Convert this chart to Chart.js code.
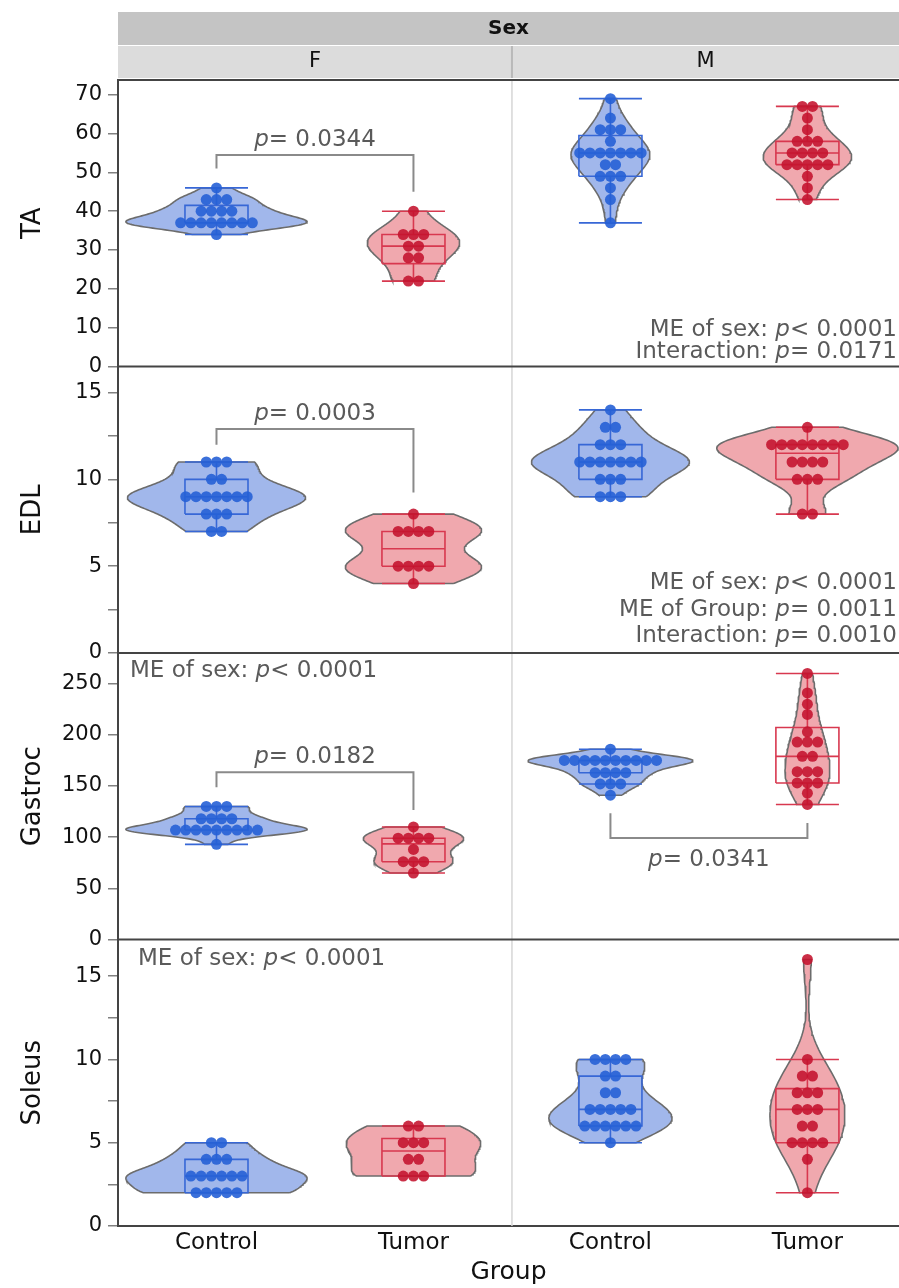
<!DOCTYPE html>
<html>
<head>
<meta charset="utf-8">
<script src="https://cdn.jsdelivr.net/npm/chart.js@4.4.1/dist/chart.umd.min.js"></script>
<style>
  html, body { margin: 0; padding: 0; background: #fff; }
</style>
</head>
<body>
<canvas id="muscle_chart" width="899" height="1288"></canvas>
<script>
// jshint esversion: 6

const FONT = '"DejaVu Sans", sans-serif';

const groupLabels = ['Control', 'Tumor', 'Control', 'Tumor'];
const groupPos = [0.5, 1.5, 2.5, 3.5];
const sexLabels = ['F', 'M'];

// TA
const taFControl = [46, 43, 43, 43, 40, 40, 40, 40, 37, 37, 37, 37, 37, 37, 37, 37, 34];
const taFTumor = [40, 34, 34, 34, 31, 31, 28, 28, 22, 22];
const taMControl = [69, 64, 61, 61, 61, 58, 55, 55, 55, 55, 55, 55, 55, 52, 52, 49, 49, 49, 46, 43, 37];
const taMTumor = [67, 67, 64, 61, 58, 58, 58, 55, 55, 55, 55, 52, 52, 52, 52, 52, 49, 46, 43];

// EDL
const edlFControl = [11, 11, 11, 10, 10, 9, 9, 9, 9, 9, 9, 9, 8, 8, 8, 7, 7];
const edlFTumor = [8, 7, 7, 7, 7, 5, 5, 5, 5, 4];
const edlMControl = [14, 13, 13, 12, 12, 12, 11, 11, 11, 11, 11, 11, 11, 10, 10, 10, 9, 9, 9];
const edlMTumor = [13, 12, 12, 12, 12, 12, 12, 12, 12, 11, 11, 11, 11, 10, 10, 10, 8, 8];

// Gastroc
const gasFControl = [130, 130, 130, 118, 118, 118, 118, 107, 107, 107, 107, 107, 107, 107, 107, 107, 93];
const gasFTumor = [110, 99, 99, 99, 99, 88, 76, 76, 76, 65];
const gasMControl = [186, 175, 175, 175, 175, 175, 175, 175, 175, 175, 175, 163, 163, 163, 163, 152, 152, 152, 141];
const gasMTumor = [260, 241, 230, 220, 203, 193, 193, 193, 179, 179, 164, 164, 164, 153, 153, 153, 143, 132];

// Soleus
const solFControl = [5, 5, 4, 4, 4, 3, 3, 3, 3, 3, 3, 2, 2, 2, 2, 2];
const solFTumor = [6, 6, 5, 5, 5, 4, 4, 3, 3, 3];
const solMControl = [10, 10, 10, 10, 9, 9, 8, 8, 7, 7, 7, 7, 7, 6, 6, 6, 6, 6, 6, 5];
const solMTumor = [16, 10, 9, 9, 8, 8, 8, 7, 7, 7, 6, 6, 5, 5, 5, 5, 4, 2];

const rows = [
    {id: 'yTA', title: 'TA', max: 73.8, step: 10, groups: [taFControl, taFTumor, taMControl, taMTumor]},
    {id: 'yEDL', title: 'EDL', max: 16.5, step: 2.5, labelEvery: 5, groups: [edlFControl, edlFTumor, edlMControl, edlMTumor]},
    {id: 'yGas', title: 'Gastroc', max: 280, step: 50, groups: [gasFControl, gasFTumor, gasMControl, gasMTumor]},
    {id: 'ySol', title: 'Soleus', max: 17.2, step: 2.5, labelEvery: 5, groups: [solFControl, solFTumor, solMControl, solMTumor]}
];

// p-value brackets and notes
const brackets = [
    {axis: 'yTA', x1: 0.5, x2: 1.5, bar: 54.5, end1: 51, end2: 45, p: '= 0.0344', above: true},
    {axis: 'yEDL', x1: 0.5, x2: 1.5, bar: 12.9, end1: 12.0, end2: 9.25, p: '= 0.0003', above: true},
    {axis: 'yGas', x1: 0.5, x2: 1.5, bar: 163.4, end1: 148.8, end2: 126.5, p: '= 0.0182', above: true},
    {axis: 'yGas', x1: 2.5, x2: 3.5, bar: 99.2, end1: 123.5, end2: 113.8, p: '= 0.0341', above: false}
];
const notes = [
    {axis: 'yTA', align: 'right', lines: [['ME of sex: ', '< 0.0001'], ['Interaction: ', '= 0.0171']], offsets: [-31, -9]},
    {axis: 'yEDL', align: 'right', lines: [['ME of sex: ', '< 0.0001'], ['ME of Group: ', '= 0.0011'], ['Interaction: ', '= 0.0010']], offsets: [-64, -37, -11]},
    {axis: 'yGas', align: 'left', dx: 12, lines: [['ME of sex: ', '< 0.0001']], offsets: [24]},
    {axis: 'ySol', align: 'left', dx: 20, lines: [['ME of sex: ', '< 0.0001']], offsets: [25]}
];

const dotColors = ['rgba(38, 96, 214, 0.9)', 'rgba(196, 18, 46, 0.88)'];
const boxColors = ['#3767d6', '#d8384f'];
const violinFill = ['rgba(110, 145, 225, 0.65)', 'rgba(230, 110, 120, 0.6)'];

const VIOLIN_HALF = 0.46;
const BOX_HALF = 0.16;
const DOT_STEP = 0.052;

function sorted(vals) {
    return vals.slice().sort((a, b) => a - b);
}

function quantile(s, p) {
    const n = s.length;
    const pos = (n + 1) * p;
    if (pos <= 1) return s[0];
    if (pos >= n) return s[n - 1];
    const lo = Math.floor(pos);
    return s[lo - 1] + (pos - lo) * (s[lo] - s[lo - 1]);
}

function boxStats(vals) {
    const s = sorted(vals);
    const q1 = quantile(s, 0.25), med = quantile(s, 0.5), q3 = quantile(s, 0.75);
    const iqr = q3 - q1;
    const lo = s.find(v => v >= q1 - 1.5 * iqr);
    const hi = s.slice().reverse().find(v => v <= q3 + 1.5 * iqr);
    return {q1: q1, med: med, q3: q3, lo: lo, hi: hi};
}

function bandwidth(vals) {
    const n = vals.length;
    const mean = vals.reduce((a, b) => a + b, 0) / n;
    const sd = Math.sqrt(vals.reduce((a, v) => a + (v - mean) * (v - mean), 0) / (n - 1));
    return 0.9 * sd * Math.pow(n, -0.2);
}

function density(vals, y, h) {
    let sum = 0;
    vals.forEach(v => {
        const z = (y - v) / h;
        sum += Math.exp(-0.5 * z * z);
    });
    return sum / (vals.length * h * Math.sqrt(2 * Math.PI));
}

let datasets = [];

rows.forEach(row => {
    const curves = row.groups.map(vals => {
        const s = sorted(vals);
        const h = bandwidth(vals);
        const lo = s[0], hi = s[s.length - 1];
        let pts = [];
        for (let i = 0; i <= 80; i++) {
            const y = lo + (hi - lo) * i / 80;
            pts.push({y: y, d: density(vals, y, h)});
        }
        return pts;
    });
    let peak = 0;
    curves.forEach(c => c.forEach(p => { peak = Math.max(peak, p.d); }));
    const k = VIOLIN_HALF / peak;

    row.groups.forEach((vals, g) => {
        const c = groupPos[g];
        const kind = g % 2;

        // violin
        const right = curves[g].map(p => ({x: c + p.d * k, y: p.y}));
        const left = curves[g].slice().reverse().map(p => ({x: c - p.d * k, y: p.y}));
        datasets.push({
            type: 'line',
            yAxisID: row.id,
            data: right.concat(left, [{x: right[0].x, y: right[0].y}]),
            fill: 'shape',
            backgroundColor: violinFill[kind],
            borderColor: '#6c6c6c',
            borderWidth: 1.6,
            pointRadius: 0,
            tension: 0,
            order: 3
        });

        // box and whiskers
        const b = boxStats(vals);
        const w = BOX_HALF;
        const gap = () => ({x: c, y: null});
        datasets.push({
            type: 'line',
            yAxisID: row.id,
            data: [
                {x: c - w, y: b.q1}, {x: c + w, y: b.q1}, {x: c + w, y: b.q3}, {x: c - w, y: b.q3}, {x: c - w, y: b.q1}, gap(),
                {x: c - w, y: b.med}, {x: c + w, y: b.med}, gap(),
                {x: c, y: b.q3}, {x: c, y: b.hi}, gap(),
                {x: c - w, y: b.hi}, {x: c + w, y: b.hi}, gap(),
                {x: c, y: b.q1}, {x: c, y: b.lo}, gap(),
                {x: c - w, y: b.lo}, {x: c + w, y: b.lo}
            ],
            fill: false,
            spanGaps: false,
            borderColor: boxColors[kind],
            borderWidth: 1.6,
            pointRadius: 0,
            tension: 0,
            order: 2
        });

        // beeswarm dots
        let counts = {}, seen = {};
        vals.forEach(v => { counts[v] = (counts[v] || 0) + 1; });
        const dots = vals.map(v => {
            seen[v] = (seen[v] === undefined) ? 0 : seen[v] + 1;
            return {x: c + (seen[v] - (counts[v] - 1) / 2) * DOT_STEP, y: v};
        });
        datasets.push({
            type: 'line',
            yAxisID: row.id,
            data: dots,
            showLine: false,
            pointRadius: 5.5,
            pointBackgroundColor: dotColors[kind],
            pointBorderWidth: 0,
            order: 1
        });
    });
});

function drawRich(ctx, parts, x, y, align) {
    const normal = '23px ' + FONT;
    const italic = 'italic 23px ' + FONT;
    const pieces = [{t: parts[0], f: normal}, {t: 'p', f: italic}, {t: parts[1], f: normal}];
    if (parts[0] === '') pieces.shift();
    let total = 0;
    pieces.forEach(pc => { ctx.font = pc.f; pc.w = ctx.measureText(pc.t).width; total += pc.w; });
    let cx = align === 'right' ? x - total : (align === 'center' ? x - total / 2 : x);
    ctx.textAlign = 'left';
    ctx.textBaseline = 'alphabetic';
    pieces.forEach(pc => { ctx.font = pc.f; ctx.fillText(pc.t, cx, y); cx += pc.w; });
}

const panelDeco = {
    id: 'panelDeco',
    beforeDatasetsDraw(chart) {
        const {ctx, chartArea: a, scales} = chart;
        const xm = scales.x.getPixelForValue(2);
        ctx.save();
        ctx.strokeStyle = '#d6d6d6';
        ctx.lineWidth = 1.5;
        ctx.beginPath();
        ctx.moveTo(xm, a.top);
        ctx.lineTo(xm, a.bottom);
        ctx.stroke();
        ctx.restore();
    },
    afterDraw(chart) {
        const {ctx, chartArea: a, scales} = chart;
        const xm = scales.x.getPixelForValue(2);
        ctx.save();

        // header bands
        ctx.fillStyle = '#c4c4c4';
        ctx.fillRect(a.left, 12, a.right - a.left, 33);
        ctx.fillStyle = '#dcdcdc';
        ctx.fillRect(a.left, 46, a.right - a.left, 32);
        ctx.strokeStyle = '#b9b9b9';
        ctx.lineWidth = 2;
        ctx.beginPath();
        ctx.moveTo(xm, 46);
        ctx.lineTo(xm, 78);
        ctx.stroke();
        ctx.fillStyle = '#111';
        ctx.textAlign = 'center';
        ctx.textBaseline = 'middle';
        ctx.font = 'bold 20px ' + FONT;
        ctx.fillText('Sex', (a.left + a.right) / 2, 29);
        ctx.font = '21px ' + FONT;
        ctx.fillText(sexLabels[0], (a.left + xm) / 2, 62);
        ctx.fillText(sexLabels[1], (xm + a.right) / 2, 62);

        // row frames
        ctx.strokeStyle = '#444';
        ctx.lineWidth = 2;
        ctx.beginPath();
        ctx.moveTo(a.left, a.top);
        ctx.lineTo(a.right, a.top);
        rows.slice(0, 3).forEach(row => {
            const yb = scales[row.id].bottom;
            ctx.moveTo(a.left, yb);
            ctx.lineTo(a.right, yb);
        });
        ctx.stroke();

        // brackets
        ctx.strokeStyle = '#8a8a8a';
        ctx.lineWidth = 2;
        ctx.fillStyle = '#5a5a5a';
        brackets.forEach(bk => {
            const ys = scales[bk.axis];
            const x1 = scales.x.getPixelForValue(bk.x1), x2 = scales.x.getPixelForValue(bk.x2);
            const yBar = ys.getPixelForValue(bk.bar);
            ctx.beginPath();
            ctx.moveTo(x1, ys.getPixelForValue(bk.end1));
            ctx.lineTo(x1, yBar);
            ctx.lineTo(x2, yBar);
            ctx.lineTo(x2, ys.getPixelForValue(bk.end2));
            ctx.stroke();
            drawRich(ctx, ['', bk.p], (x1 + x2) / 2, bk.above ? yBar - 9 : yBar + 28, 'center');
        });

        // model notes
        notes.forEach(nt => {
            const ys = scales[nt.axis];
            nt.lines.forEach((ln, i) => {
                if (nt.align === 'right') {
                    drawRich(ctx, ln, a.right - 2, ys.bottom + nt.offsets[i], 'right');
                } else {
                    drawRich(ctx, ln, a.left + nt.dx, ys.top + nt.offsets[i], 'left');
                }
            });
        });
        ctx.restore();
    }
};

let scales = {
    x: {
        type: 'linear',
        position: 'bottom',
        min: 0,
        max: 3.965,
        afterBuildTicks: s => { s.ticks = groupPos.map(v => ({value: v})); },
        afterFit: s => {
            s.height = 62;
            s.paddingLeft = 0;
            s.paddingRight = 0;
        },
        ticks: {
            autoSkip: false,
            maxRotation: 0,
            padding: 3,
            color: '#111',
            font: {family: FONT, size: 23},
            callback: (v, i) => groupLabels[i]
        },
        grid: {display: false, drawTicks: false},
        border: {display: true, color: '#444', width: 2},
        title: {display: true, text: 'Group', color: '#111', font: {family: FONT, size: 25}, padding: {top: 0, bottom: 1}}
    }
};

rows.forEach((row, r) => {
    scales[row.id] = {
        type: 'linear',
        position: 'left',
        stack: 'rows',
        stackWeight: 1,
        weight: rows.length - r,
        min: 0,
        max: row.max,
        afterFit: s => {
            s.width = 118;
            s.paddingTop = 0;
            s.paddingBottom = 0;
        },
        ticks: {
            autoSkip: false,
            stepSize: row.step,
            includeBounds: false,
            padding: 6,
            color: '#111',
            font: {family: FONT, size: 21},
            callback: v => (row.labelEvery && v % row.labelEvery !== 0) ? '' : v
        },
        grid: {drawOnChartArea: false, drawTicks: true, tickLength: 10, color: '#808080', lineWidth: 1.5},
        border: {display: true, color: '#444', width: 2},
        title: {display: true, text: row.title, color: '#111', font: {family: FONT, size: 26}, padding: {top: 18, bottom: 0}}
    };
});

const ctx = document.getElementById('muscle_chart').getContext('2d');
let myChart = new Chart(ctx, {
    type: 'line',
    data: {datasets: datasets},
    options: {
        responsive: false,
        animation: false,
        events: [],
        layout: {autoPadding: false, padding: {top: 80, left: 0, right: 0, bottom: 0}},
        plugins: {
            legend: {display: false},
            tooltip: {enabled: false}
        },
        scales: scales
    },
    plugins: [panelDeco]
});
</script>
</body>
</html>
